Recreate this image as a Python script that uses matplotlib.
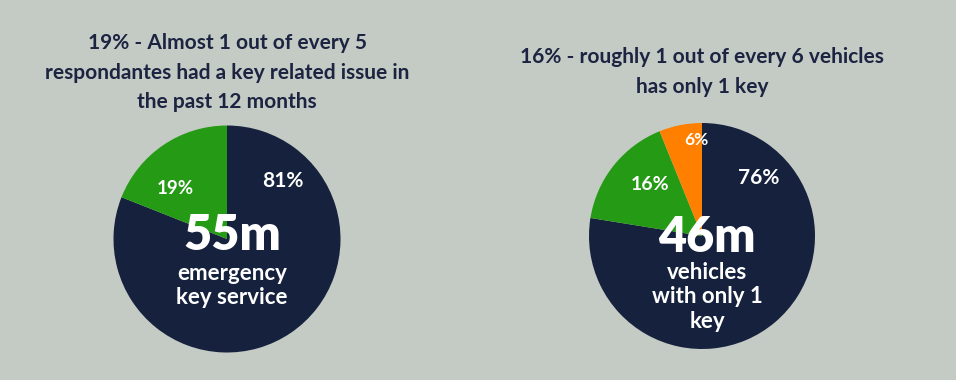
import matplotlib.pyplot as plt

plt.rcParams['font.family'] = ['Lato', 'DejaVu Sans']

bg = '#c4cac4'
navy = '#15213d'
green = '#259b15'
orange = '#ff8000'
title_col = '#1c2441'

# left chart
left_values = [81, 19]
left_labels = ['81%', '19%']
left_colors = [navy, green]
left_title = '19% - Almost 1 out of every 5\nrespondantes had a key related issue in\nthe past 12 months'
left_big = '55m'
left_sub = 'emergency\nkey service'

# right chart
right_values = [76, 16, 6]
right_labels = ['76%', '16%', '6%']
right_colors = [navy, green, orange]
right_title = '16% - roughly 1 out of every 6 vehicles\nhas only 1 key'
right_big = '46m'
right_sub = 'vehicles\nwith only 1\nkey'

W, H = 956, 380
fig = plt.figure(figsize=(W / 100, H / 100), dpi=100)
fig.patch.set_facecolor(bg)


def pie_axes(cx, cy, r):
    return fig.add_axes([(cx - r) / W, (H - cy - r) / H, 2 * r / W, 2 * r / H])


def draw(cx, cy, r, values, colors, labels, label_pos, label_sizes,
         big, big_pos, sub, sub_pos, title, title_y):
    ax = pie_axes(cx, cy, r)
    ax.pie(values, colors=colors, startangle=90, counterclock=False,
           wedgeprops=dict(linewidth=0))
    ax.set_xlim(-1, 1)
    ax.set_ylim(-1, 1)
    ax.axis('off')
    for lab, (px, py), fs in zip(labels, label_pos, label_sizes):
        ax.text((px - cx) / r, (cy - py) / r, lab, color='white', fontsize=fs,
                fontweight='bold', ha='center', va='center')
    ax.text((big_pos[0] - cx) / r, (cy - big_pos[1]) / r, big, color='white',
            fontsize=35, fontweight='heavy', ha='center', va='center')
    ax.text((sub_pos[0] - cx) / r, (cy - sub_pos[1]) / r, sub, color='white',
            fontsize=16, fontweight='bold', ha='center', va='top',
            linespacing=1.2)
    fig.text(cx / W, 1 - title_y / H, title, color=title_col, fontsize=15,
             fontweight='bold', ha='center', va='top', linespacing=1.6)


draw(227, 239, 113.5, left_values, left_colors, left_labels,
     [(283, 181), (175, 188)], [15, 13.5],
     left_big, (232, 236), left_sub, (232, 263), left_title, 33)

draw(702, 236, 113, right_values, right_colors, right_labels,
     [(759, 178), (650, 185), (696, 140)], [15, 14, 12.5],
     right_big, (707, 237), right_sub, (707, 262), right_title, 47)

fig.savefig('out.png', dpi=100, facecolor=bg)
